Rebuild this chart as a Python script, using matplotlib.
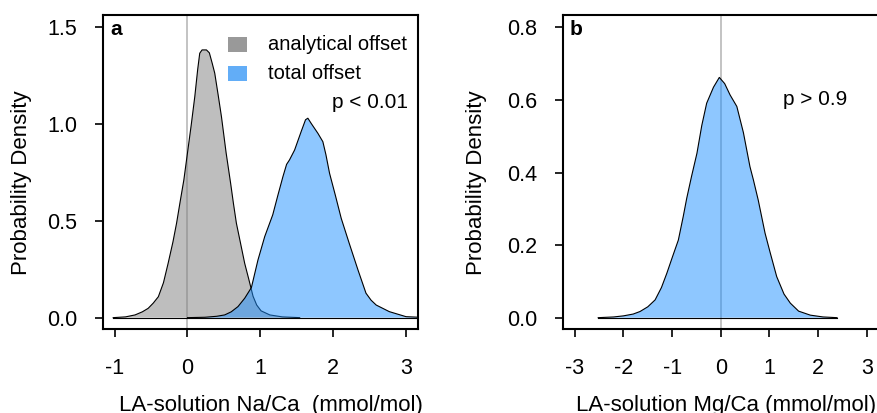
import matplotlib
matplotlib.use("Agg")
import matplotlib.pyplot as plt
from matplotlib.patches import Rectangle

plt.rcParams['font.family'] = ['Liberation Sans', 'DejaVu Sans']

################### Data ###################
# panel a: analytical offset (grey)
na_anal_x = [-1.02, -0.85, -0.72, -0.62, -0.54, -0.47, -0.40, -0.33, -0.266, -0.20,
             -0.15, -0.10, -0.05, 0.00, 0.05, 0.10, 0.14, 0.168, 0.20, 0.26,
             0.30, 0.34, 0.374, 0.42, 0.466, 0.53, 0.593, 0.63, 0.671, 0.73,
             0.785, 0.84, 0.90, 0.95, 1.01, 1.13, 1.30, 1.54]
na_anal_y = [0.0, 0.004, 0.014, 0.03, 0.048, 0.075, 0.108, 0.18, 0.28, 0.39,
             0.487, 0.60, 0.71, 0.85, 0.99, 1.139, 1.28, 1.363, 1.38, 1.38,
             1.365, 1.31, 1.26, 1.15, 1.036, 0.85, 0.69, 0.59, 0.487, 0.38,
             0.28, 0.20, 0.11, 0.065, 0.035, 0.014, 0.004, 0.0]

# panel a: total offset (blue)
na_tot_x = [0.0, 0.24, 0.40, 0.51, 0.60, 0.693, 0.785, 0.877, 0.967, 1.06,
            1.17, 1.24, 1.31, 1.36, 1.40, 1.47, 1.56, 1.62, 1.652, 1.70,
            1.79, 1.858, 1.90, 1.95, 2.03, 2.11, 2.22, 2.34, 2.45, 2.52,
            2.59, 2.77, 3.0, 3.3]
na_tot_y = [0.0, 0.002, 0.007, 0.014, 0.03, 0.057, 0.10, 0.155, 0.297, 0.418,
            0.53, 0.63, 0.727, 0.79, 0.813, 0.864, 0.959, 1.02, 1.028, 1.00,
            0.95, 0.907, 0.84, 0.744, 0.63, 0.512, 0.383, 0.246, 0.126, 0.09,
            0.065, 0.031, 0.005, 0.0]

# panel b: total offset Mg/Ca
mg_tot_x = [-2.52, -2.2, -2.0, -1.8, -1.66, -1.50, -1.35, -1.22, -1.11, -1.0,
            -0.872, -0.77, -0.70, -0.60, -0.49, -0.39, -0.29, -0.15, -0.03, 0.08,
            0.19, 0.33, 0.465, 0.60, 0.67, 0.77, 0.91, 1.014, 1.15, 1.30,
            1.43, 1.60, 1.84, 2.1, 2.39]
mg_tot_y = [0.0, 0.002, 0.005, 0.01, 0.017, 0.03, 0.049, 0.083, 0.122, 0.165,
            0.214, 0.28, 0.329, 0.39, 0.453, 0.53, 0.591, 0.635, 0.662, 0.645,
            0.614, 0.582, 0.51, 0.416, 0.38, 0.324, 0.233, 0.18, 0.113, 0.065,
            0.04, 0.018, 0.007, 0.002, 0.0]

legend_labels = ['analytical offset', 'total offset']
p_text = ['p < 0.01', 'p > 0.9']

grey_fill = '#7f7f7f'
blue_fill = '#1e90ff'
grey_key = '#999999'
blue_key = '#62adf7'


def style_axes(ax, xticks, yticks):
    for s in ax.spines.values():
        s.set_linewidth(1.5)
    ax.set_xticks(xticks)
    ax.set_xticklabels([str(t) for t in xticks])
    ax.set_yticks(yticks)
    ax.set_yticklabels(['%.1f' % t for t in yticks])
    ax.tick_params(direction='out', length=5.5, width=1.2, labelsize=15.5)
    ax.tick_params(axis='x', pad=15)
    ax.tick_params(axis='y', pad=13)


fig = plt.figure(figsize=(8.77, 4.13), dpi=100)

################### panel a ###################
ax1 = fig.add_axes([0.1171, 0.2027, 0.3592, 0.761])
ax1.axvline(0, color='#bebebe', lw=1.3, zorder=1)
ax1.fill(na_anal_x, na_anal_y, facecolor=grey_fill, alpha=0.5, zorder=2)
ax1.plot(na_anal_x, na_anal_y, color='black', lw=0.8, zorder=3)
ax1.fill(na_tot_x, na_tot_y, facecolor=blue_fill, alpha=0.5, zorder=4)
ax1.plot(na_tot_x, na_tot_y, color='black', lw=0.8, zorder=5)
ax1.plot([na_anal_x[0], na_tot_x[-1]], [0, 0], color='black', lw=0.8, zorder=5)
ax1.set_xlim(-1.164, 3.16)
ax1.set_ylim(-0.06, 1.56)
style_axes(ax1, [-1, 0, 1, 2, 3], [0.0, 0.5, 1.0, 1.5])
ax1.set_xlabel('LA-solution Na/Ca  (mmol/mol)', fontsize=16)
ax1.xaxis.set_label_coords(0.533, -0.209)
ax1.set_ylabel('Probability Density', fontsize=16, va='center')
ax1.yaxis.set_label_coords(-0.257, 0.467)
ax1.text(0.023, 0.985, 'a', transform=ax1.transAxes, fontsize=15,
         fontweight='bold', ha='left', va='top')
ax1.text(3.02, 1.107, p_text[0], fontsize=15, ha='right', va='center')

# legend keys drawn by hand
key_colors = [grey_key, blue_key]
key_y = [0.931, 0.839]
for lab, col, ky in zip(legend_labels, key_colors, key_y):
    ax1.add_patch(Rectangle((0.397, ky - 0.048), 0.060, 0.048, transform=ax1.transAxes,
                            facecolor=col, edgecolor='none', zorder=6))
    ax1.text(0.524, ky - 0.024, lab, transform=ax1.transAxes, fontsize=14.5,
             ha='left', va='center', zorder=6)

################### panel b ###################
ax2 = fig.add_axes([0.6416, 0.2027, 0.3607, 0.761])
ax2.axvline(0, color='#bebebe', lw=1.3, zorder=1)
ax2.fill(mg_tot_x, mg_tot_y, facecolor=blue_fill, alpha=0.5, zorder=2)
ax2.plot(mg_tot_x, mg_tot_y, color='black', lw=0.8, zorder=3)
ax2.plot([mg_tot_x[0], mg_tot_x[-1]], [0, 0], color='black', lw=0.8, zorder=3)
ax2.set_xlim(-3.25, 3.253)
ax2.set_ylim(-0.032, 0.834)
style_axes(ax2, [-3, -2, -1, 0, 1, 2, 3], [0.0, 0.2, 0.4, 0.6, 0.8])
ax2.set_xlabel('LA-solution Mg/Ca (mmol/mol)', fontsize=16)
ax2.xaxis.set_label_coords(0.517, -0.209)
ax2.set_ylabel('Probability Density', fontsize=16, va='center')
ax2.yaxis.set_label_coords(-0.273, 0.467)
ax2.text(0.023, 0.985, 'b', transform=ax2.transAxes, fontsize=15,
         fontweight='bold', ha='left', va='top')
ax2.text(1.28, 0.60, p_text[1], fontsize=15, ha='left', va='center')

fig.savefig('out.png', dpi=100)
